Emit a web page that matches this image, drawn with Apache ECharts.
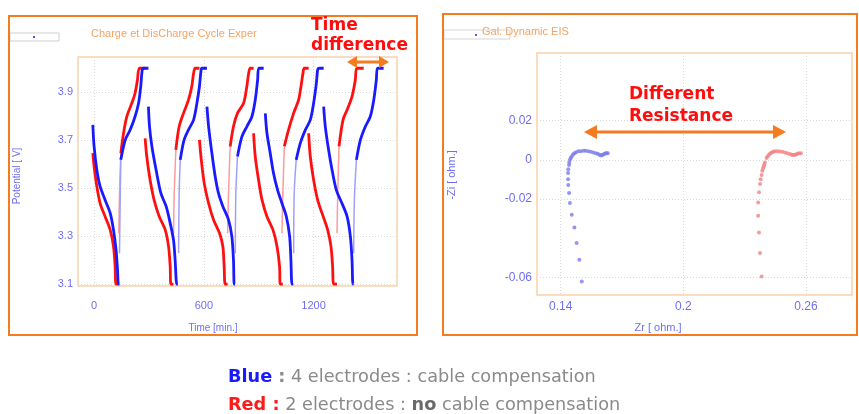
<!DOCTYPE html>
<html>
<head>
<meta charset="utf-8">
<script src="https://cdn.jsdelivr.net/npm/echarts@6/dist/echarts.min.js"></script>
<style>
  html, body { margin: 0; padding: 0; background: #ffffff; }
  #chart { width: 859px; height: 414px; }
</style>
</head>
<body>
<div id="chart"></div>
<script>
// ---- Charge / discharge cycling: [time (min), potential (V)] per cycle ----
const blueDischarge = [
  [[-7,3.764],[0,3.674],[15,3.576],[33,3.507],[60,3.451],[88,3.396],[106,3.326],[120,3.243],[128,3.160],[133,3.10],[139,3.10]],
  [[297,3.840],[303,3.757],[316,3.674],[339,3.576],[365,3.479],[394,3.424],[416,3.354],[434,3.285],[443,3.201],[452,3.10],[458,3.10]],
  [[617,3.840],[626,3.757],[644,3.646],[662,3.549],[680,3.479],[704,3.424],[735,3.368],[753,3.299],[762,3.201],[766,3.10],[771,3.10]],
  [[936,3.812],[945,3.729],[963,3.646],[981,3.562],[1003,3.493],[1027,3.437],[1051,3.382],[1069,3.299],[1076,3.201],[1082,3.10],[1089,3.10]],
  [[1255,3.840],[1264,3.757],[1282,3.660],[1301,3.576],[1324,3.493],[1355,3.437],[1383,3.382],[1401,3.299],[1410,3.201],[1415,3.10],[1419,3.10]]
];
const blueCharge = [
  [[139,3.229],[142,3.410],[146,3.618],[170,3.701],[197,3.743],[224,3.799],[243,3.854],[255,3.924],[263,3.993],[270,4.0],[297,4.0]],
  [[462,3.229],[465,3.479],[471,3.618],[492,3.701],[516,3.743],[544,3.785],[562,3.854],[576,3.924],[584,3.986],[589,4.0],[617,4.0]],
  [[772,3.229],[775,3.479],[784,3.632],[808,3.715],[835,3.757],[863,3.799],[881,3.868],[894,3.951],[901,4.0],[927,4.0]],
  [[1091,3.229],[1094,3.479],[1105,3.618],[1127,3.687],[1155,3.743],[1182,3.785],[1200,3.854],[1215,3.937],[1222,3.993],[1229,4.0],[1255,4.0]],
  [[1419,3.229],[1423,3.451],[1434,3.618],[1456,3.701],[1483,3.757],[1510,3.799],[1529,3.868],[1543,3.951],[1550,4.0],[1583,4.0]]
];
const redDischarge = [
  [[-7,3.646],[0,3.590],[15,3.507],[33,3.437],[60,3.382],[88,3.326],[106,3.257],[115,3.174],[120,3.10],[133,3.10]],
  [[279,3.708],[288,3.632],[306,3.535],[328,3.451],[356,3.382],[389,3.326],[407,3.257],[416,3.174],[420,3.10],[434,3.10]],
  [[576,3.701],[586,3.618],[602,3.521],[626,3.437],[653,3.368],[686,3.312],[704,3.257],[711,3.174],[717,3.10],[730,3.10]],
  [[872,3.729],[881,3.632],[899,3.535],[918,3.451],[945,3.382],[978,3.326],[1000,3.257],[1014,3.174],[1018,3.10],[1032,3.10]],
  [[1173,3.729],[1182,3.632],[1200,3.535],[1222,3.451],[1246,3.396],[1277,3.326],[1295,3.257],[1304,3.174],[1310,3.10],[1328,3.10]]
];
const redCharge = [
  [[135,3.312],[139,3.479],[146,3.646],[161,3.729],[179,3.799],[206,3.854],[224,3.896],[237,3.951],[248,4.0],[279,4.0]],
  [[434,3.312],[438,3.479],[447,3.660],[465,3.757],[489,3.813],[516,3.868],[534,3.924],[544,3.979],[553,4.0],[576,4.0]],
  [[730,3.312],[735,3.479],[744,3.674],[762,3.757],[784,3.813],[817,3.854],[835,3.924],[845,3.979],[854,4.0],[872,4.0]],
  [[1027,3.312],[1032,3.479],[1040,3.674],[1063,3.743],[1091,3.813],[1118,3.868],[1131,3.924],[1142,3.979],[1149,4.0],[1173,4.0]],
  [[1328,3.312],[1332,3.479],[1339,3.674],[1361,3.785],[1383,3.826],[1410,3.882],[1428,3.951],[1437,4.0],[1474,4.0]]
];
const timeTicks = [0, 600, 1200];
const potentialTicks = [3.1, 3.3, 3.5, 3.7, 3.9];

// ---- Galvanostatic EIS: [Zr (ohm), -Zi (ohm)] ----
const eisBlue = [
  [0.1503,-0.0621],[0.1491,-0.0510],[0.1478,-0.0425],[0.1467,-0.0345],[0.1454,-0.0281],
  [0.1445,-0.0221],[0.1441,-0.0170],[0.1437,-0.0128],[0.1436,-0.0099],[0.1436,-0.0068],
  [0.1437,-0.0048],[0.1441,-0.0026],[0.1442,-0.0014],[0.1445,0.0000],[0.1449,0.0009],
  [0.1454,0.0017],[0.1460,0.0027],[0.1467,0.0034],[0.1475,0.0039],[0.1486,0.0043],
  [0.1498,0.0044],[0.1511,0.0046],[0.1522,0.0046],[0.1535,0.0043],[0.1547,0.0041],
  [0.1559,0.0037],[0.1571,0.0034],[0.1581,0.0031],[0.1589,0.0026],[0.1597,0.0022],
  [0.1603,0.0024],[0.1608,0.0027],[0.1615,0.0031],[0.1620,0.0034],[0.1625,0.0034],[0.1630,0.0034]
];
const eisRed = [
  [0.2383,-0.0595],[0.2375,-0.0476],[0.2370,-0.0371],[0.2366,-0.0286],[0.2366,-0.0218],
  [0.2370,-0.0165],[0.2375,-0.0124],[0.2378,-0.0099],[0.2383,-0.0077],[0.2386,-0.0056],
  [0.2390,-0.0044],[0.2393,-0.0034],[0.2396,-0.0024],[0.2399,-0.0014],[0.2407,0.0009],
  [0.2412,0.0017],[0.2419,0.0026],[0.2425,0.0032],[0.2432,0.0037],[0.2440,0.0041],
  [0.2448,0.0044],[0.2460,0.0044],[0.2472,0.0042],[0.2484,0.0041],[0.2497,0.0037],
  [0.2509,0.0034],[0.2521,0.0029],[0.2530,0.0026],[0.2537,0.0024],[0.2544,0.0026],
  [0.2551,0.0027],[0.2559,0.0031],[0.2565,0.0034],[0.2575,0.0034]
];
const zrTicks = [0.14, 0.2, 0.26];
const ziTicks = [0.02, 0, -0.02, -0.06];

// ---- styling ----
const BLUE = '#1a1aff';
const BLUE_LIGHT = '#a0a0fa';
const RED = '#ff1010';
const RED_LIGHT = '#fa9c9c';
const LABEL = '#6e6ef2';
const ORANGE = '#f47b20';
const SANS = '"Liberation Sans", Arial, sans-serif';
const BOLD = '"DejaVu Sans", Verdana, sans-serif';

const chart = echarts.init(document.getElementById('chart'), null, { renderer: 'canvas' });

function lineSeries(data, color, width, z) {
  return {
    type: 'line',
    xAxisIndex: 0,
    yAxisIndex: 0,
    data: data,
    smooth: 0.3,
    showSymbol: false,
    itemStyle: { color: color },
    lineStyle: { color: color, width: width },
    z: z
  };
}

// discharge branches: one solid trace per cycle
function dischargeSeries(segments, color, z) {
  return segments.map(seg => lineSeries(seg, color, 2.8, z));
}

// charge branches: the fast initial rise is sparsely sampled, so it is drawn lighter
function chargeSeries(segments, color, light, z) {
  const out = [];
  segments.forEach(seg => {
    out.push(lineSeries(seg.slice(0, 3), light, 1.5, z - 1));
    out.push(lineSeries(seg.slice(2), color, 2.8, z));
  });
  return out;
}

const splitDotted = { show: true, lineStyle: { color: '#d9d9d9', type: [1, 2], width: 1 } };

function valueAxis(gridIndex, min, max, ticks, margin, fontSize) {
  return {
    type: 'value',
    gridIndex: gridIndex,
    min: min,
    max: max,
    axisLine: { show: false },
    axisTick: { show: false, customValues: ticks },
    axisLabel: {
      customValues: ticks, color: LABEL, fontFamily: SANS, fontSize: fontSize, margin: margin,
      formatter: v => String(v)
    },
    splitLine: splitDotted
  };
}

const option = {
  backgroundColor: '#ffffff',
  animation: false,
  grid: [
    { left: 78, top: 57, width: 319, height: 229, show: true, borderColor: '#f9d2ab', borderWidth: 1.5, backgroundColor: 'transparent' },
    { left: 537, top: 53, width: 315, height: 242, show: true, borderColor: '#f9d2ab', borderWidth: 1.5, backgroundColor: 'transparent' }
  ],
  xAxis: [
    valueAxis(0, -88, 1656, timeTicks, 14, 11),
    valueAxis(1, 0.1284, 0.2825, zrTicks, 6, 12)
  ],
  yAxis: [
    valueAxis(0, 3.092, 4.047, potentialTicks, 5, 11),
    valueAxis(1, -0.069, 0.0545, ziTicks, 5, 12)
  ],
  series: [
    ...dischargeSeries(redDischarge, RED, 4),
    ...chargeSeries(redCharge, RED, RED_LIGHT, 4),
    ...dischargeSeries(blueDischarge, BLUE, 6),
    ...chargeSeries(blueCharge, BLUE, BLUE_LIGHT, 6),
    {
      name: 'Blue EIS', type: 'scatter', xAxisIndex: 1, yAxisIndex: 1,
      data: eisBlue, symbolSize: 4,
      itemStyle: { color: '#7c7cee' }
    },
    {
      name: 'Red EIS', type: 'scatter', xAxisIndex: 1, yAxisIndex: 1,
      data: eisRed, symbolSize: 4,
      itemStyle: { color: '#f48282' }
    }
  ],
  graphic: [
    // panel frames
    { type: 'rect', shape: { x: 9, y: 16, width: 408, height: 319 }, style: { fill: 'none', stroke: ORANGE, lineWidth: 2 }, z: 1 },
    { type: 'rect', shape: { x: 443, y: 14, width: 414, height: 321 }, style: { fill: 'none', stroke: ORANGE, lineWidth: 2 }, z: 1 },
    // legend boxes
    { type: 'rect', shape: { x: 10, y: 33, width: 49, height: 8 }, style: { fill: 'none', stroke: '#cfcfcf', lineWidth: 1 } },
    { type: 'circle', shape: { cx: 34, cy: 37, r: 1 }, style: { fill: BLUE } },
    { type: 'rect', shape: { x: 444, y: 30, width: 66, height: 9 }, style: { fill: 'none', stroke: '#d5d5d5', lineWidth: 1 } },
    { type: 'circle', shape: { cx: 476, cy: 35, r: 1 }, style: { fill: BLUE } },
    // panel titles
    { type: 'text', x: 91, y: 34, style: { text: 'Charge et DisCharge Cycle Exper', fill: '#f6a262', font: '11px ' + SANS, verticalAlign: 'middle' } },
    { type: 'text', x: 482, y: 32, style: { text: 'Gal. Dynamic EIS', fill: '#f6a262', font: '11px ' + SANS, verticalAlign: 'middle' } },
    // axis names
    { type: 'text', x: 17, y: 176, rotation: Math.PI / 2, style: { text: 'Potential [ V]', fill: LABEL, font: '10px ' + SANS, align: 'center', verticalAlign: 'middle' } },
    { type: 'text', x: 213, y: 328, style: { text: 'Time [min.]', fill: LABEL, font: '10px ' + SANS, align: 'center', verticalAlign: 'middle' } },
    { type: 'text', x: 452, y: 175, rotation: Math.PI / 2, style: { text: '-Zi [ ohm.]', fill: LABEL, font: '11px ' + SANS, align: 'center', verticalAlign: 'middle' } },
    { type: 'text', x: 658, y: 328, style: { text: 'Zr [ ohm.]', fill: LABEL, font: '11px ' + SANS, align: 'center', verticalAlign: 'middle' } },
    // annotations
    { type: 'text', x: 311, y: 26, z: 10, style: { text: 'Time', fill: '#ff0d0d', font: 'bold 17px ' + BOLD, verticalAlign: 'middle' } },
    { type: 'text', x: 311, y: 46, z: 10, style: { text: 'difference', fill: '#ff0d0d', font: 'bold 17px ' + BOLD, verticalAlign: 'middle' } },
    { type: 'line', z: 10, shape: { x1: 354, y1: 62, x2: 382, y2: 62 }, style: { stroke: ORANGE, lineWidth: 3 } },
    { type: 'polygon', z: 10, shape: { points: [[347, 62], [357, 56], [357, 68]] }, style: { fill: ORANGE } },
    { type: 'polygon', z: 10, shape: { points: [[389, 62], [379, 56], [379, 68]] }, style: { fill: ORANGE } },
    { type: 'text', x: 629, y: 95, z: 10, style: { text: 'Different', fill: '#ff0d0d', font: 'bold 17px ' + BOLD, verticalAlign: 'middle' } },
    { type: 'text', x: 629, y: 117, z: 10, style: { text: 'Resistance', fill: '#ff0d0d', font: 'bold 17px ' + BOLD, verticalAlign: 'middle' } },
    { type: 'line', z: 10, shape: { x1: 594, y1: 132, x2: 776, y2: 132 }, style: { stroke: ORANGE, lineWidth: 3 } },
    { type: 'polygon', z: 10, shape: { points: [[584, 132], [597, 125], [597, 139]] }, style: { fill: ORANGE } },
    { type: 'polygon', z: 10, shape: { points: [[786, 132], [773, 125], [773, 139]] }, style: { fill: ORANGE } },
    // caption
    {
      type: 'text', x: 228, y: 377,
      style: {
        text: '{c|Blue }{k|:}{t| 4 electrodes : cable compensation}',
        verticalAlign: 'middle',
        rich: {
          c: { fill: '#1a1aff', font: 'bold 17.7px ' + BOLD },
          k: { fill: '#8a8a8a', font: 'bold 17.7px ' + BOLD },
          t: { fill: '#8a8a8a', font: '17.7px ' + BOLD }
        }
      }
    },
    {
      type: 'text', x: 228, y: 405,
      style: {
        text: '{c|Red :}{t| 2 electrodes : }{n|no}{t| cable compensation}',
        verticalAlign: 'middle',
        rich: {
          c: { fill: '#ff1a1a', font: 'bold 17.7px ' + BOLD },
          n: { fill: '#6a6a6a', font: 'bold 17.7px ' + BOLD },
          t: { fill: '#8a8a8a', font: '17.7px ' + BOLD }
        }
      }
    }
  ]
};

chart.setOption(option);
</script>
</body>
</html>
